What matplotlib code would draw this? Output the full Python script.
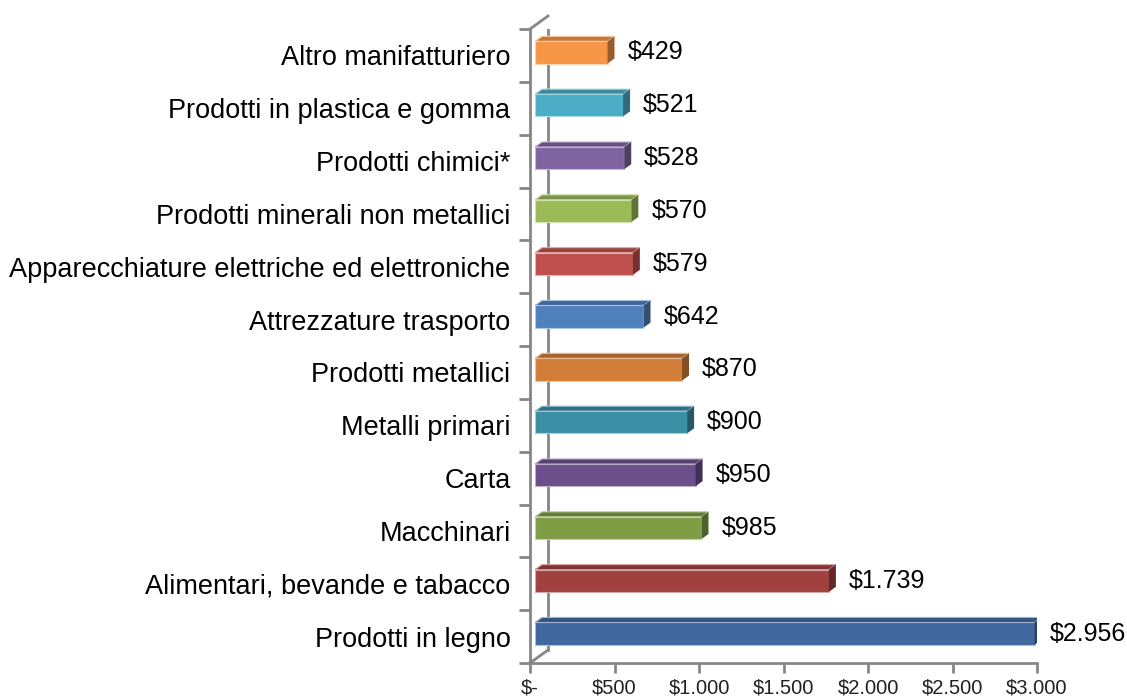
import numpy as np
import matplotlib
matplotlib.use('Agg')
import matplotlib.pyplot as plt
from matplotlib.patches import Polygon
from matplotlib.lines import Line2D
from matplotlib.transforms import offset_copy
from matplotlib.colors import to_rgb

# dati (dal basso verso l'alto)
categorie = ['Prodotti in legno', 'Alimentari, bevande e tabacco', 'Macchinari',
             'Carta', 'Metalli primari', 'Prodotti metallici',
             'Attrezzature trasporto', 'Apparecchiature elettriche ed elettroniche',
             'Prodotti minerali non metallici', 'Prodotti chimici*',
             'Prodotti in plastica e gomma', 'Altro manifatturiero']
valori = [2956, 1739, 985, 950, 900, 870, 642, 579, 570, 528, 521, 429]
colori = ['#41689E', '#A0403F', '#7E9D45', '#6B4E8A', '#3B8FA5', '#D27D38',
          '#4F81BD', '#C0504D', '#9BBB59', '#8064A2', '#4BACC6', '#F79646']
xticks = [0, 500, 1000, 1500, 2000, 2500, 3000]
xtick_labels = ['$-', '$500', '$1.000', '$1.500', '$2.000', '$2.500', '$3.000']

plt.rcParams['font.family'] = ['Liberation Sans', 'DejaVu Sans']
GRIGIO = '#868686'


def scurisci(c, f):
    r, g, b = to_rgb(c)
    return (r * f, g * f, b * f)


def schiarisci(c, f):
    r, g, b = to_rgb(c)
    return (r + (1 - r) * f, g + (1 - g) * f, b + (1 - b) * f)


def euro(v):
    return '$' + format(v, ',').replace(',', '.')


W, H = 1127, 700
fig = plt.figure(figsize=(W / 100, H / 100), dpi=100)
ax = fig.add_axes([530 / W, 1 - 663 / H, (1037 - 530) / W, (663 - 29) / H])
ax.set_xlim(0, 3000)
ax.set_ylim(-0.5, len(categorie) - 0.5)

# profondita' 3D in pixel
sp_x, sp_y = 5, 3       # spostamento delle barre rispetto al piano frontale
dx, dy = 7, 5           # profondita' delle barre
muro_x, muro_y = 18, 13  # profondita' della parete

px_x = ax.transData.transform((1, 0))[0] - ax.transData.transform((0, 0))[0]
px_y = ax.transData.transform((0, 1))[1] - ax.transData.transform((0, 0))[1]
ddx = dx / px_x
ddy = dy / px_y

off = offset_copy(ax.transData, fig=fig, x=sp_x, y=sp_y, units='dots')

y = np.arange(len(categorie))
h = 0.42
barre = ax.barh(y, valori, height=h, color=colori, zorder=3)
for p, c in zip(barre, colori):
    p.set_transform(off)
    p.set_edgecolor(schiarisci(c, 0.55))
    p.set_linewidth(0.8)

for yi, v, c in zip(y, valori, colori):
    top = [(0, yi + h / 2), (v, yi + h / 2), (v + ddx, yi + h / 2 + ddy), (ddx, yi + h / 2 + ddy)]
    lato = [(v, yi - h / 2), (v + ddx, yi - h / 2 + ddy), (v + ddx, yi + h / 2 + ddy), (v, yi + h / 2)]
    ax.add_patch(Polygon(top, closed=True, facecolor=scurisci(c, 0.8),
                         edgecolor=schiarisci(c, 0.5), linewidth=0.8, transform=off, zorder=3))
    ax.add_patch(Polygon(lato, closed=True, facecolor=scurisci(c, 0.62),
                         edgecolor='none', transform=off, zorder=3))
    gap = 8 if v == max(valori) else 13
    ax.annotate(euro(v), xy=(v + ddx, yi), xycoords=off, xytext=(gap, 0),
                textcoords='offset pixels', va='center', ha='left', fontsize=18,
                color='black', zorder=4)

# parete posteriore
ax.add_line(Line2D([0, 0], [0, 1], color=GRIGIO, lw=2, zorder=1,
                   transform=offset_copy(ax.transAxes, fig=fig, x=muro_x, y=muro_y, units='dots')))
fx = muro_x / (ax.bbox.width)
fy = muro_y / (ax.bbox.height)
for yy in (0, 1):
    ax.add_line(Line2D([0, fx], [yy, yy + fy], color=GRIGIO, lw=2, zorder=1,
                       transform=ax.transAxes, clip_on=False))

# assi
for s in ('top', 'right'):
    ax.spines[s].set_visible(False)
for s in ('left', 'bottom'):
    ax.spines[s].set_color(GRIGIO)
    ax.spines[s].set_linewidth(2)

ax.set_yticks(np.arange(-0.5, len(categorie), 1))
ax.set_yticklabels([])
ax.set_yticks(y, minor=True)
ax.set_yticklabels(categorie, minor=True, fontsize=19.5)
ax.tick_params(axis='y', which='major', length=8, width=2, color=GRIGIO, direction='out')
ax.tick_params(axis='y', which='minor', length=0, pad=14)

ax.set_xticks(xticks)
ax.set_xticklabels(xtick_labels, fontsize=14.5, color='#222222')
ax.tick_params(axis='x', length=7, width=2, color=GRIGIO, direction='out', pad=4)

fig.savefig('out.png', dpi=100)
